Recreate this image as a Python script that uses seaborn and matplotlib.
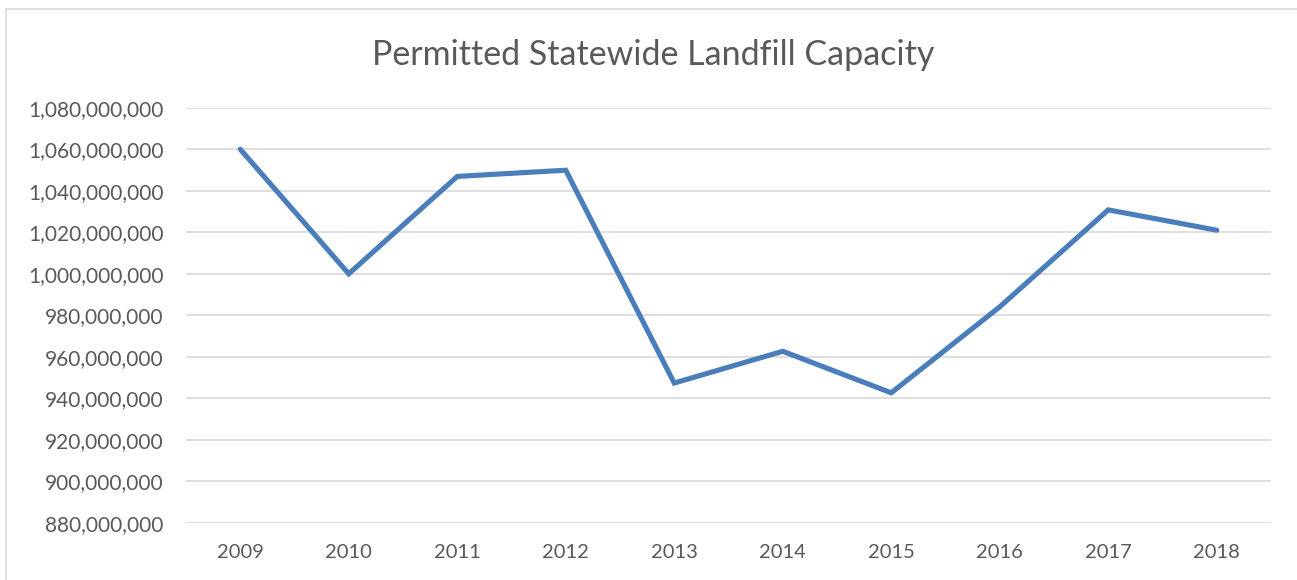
import pandas as pd
import matplotlib
matplotlib.use("Agg")
import matplotlib.pyplot as plt
from matplotlib.ticker import FuncFormatter, MultipleLocator
from matplotlib.patches import Rectangle
import seaborn as sns

years = ["2009", "2010", "2011", "2012", "2013", "2014", "2015", "2016", "2017", "2018"]
capacity = [1060000000, 1000000000, 1046900000, 1049900000, 947400000,
            962700000, 942700000, 984100000, 1030800000, 1021000000]

title = "Permitted Statewide Landfill Capacity"


def main():
    df = pd.DataFrame({"Year": years, "Capacity": capacity})

    sns.set_theme(style="white")
    plt.rcParams['font.family'] = ['Lato', 'DejaVu Sans']

    fig = plt.figure(figsize=(12.97, 5.8), dpi=100)
    ax = fig.add_axes([186 / 1297, 1 - 523 / 580, (1271 - 186) / 1297, (523 - 107.7) / 580])

    sns.lineplot(data=df, x="Year", y="Capacity", ax=ax, color="#4a7ebb",
                 linewidth=3.7, solid_capstyle="round", solid_joinstyle="miter", zorder=3)

    ax.set_xlim(-0.5, len(years) - 0.5)
    ax.set_ylim(880000000, 1080000000)
    ax.yaxis.set_major_locator(MultipleLocator(20000000))
    ax.yaxis.set_major_formatter(FuncFormatter(lambda v, p: f"{v:,.0f}"))

    ax.grid(True, axis="y", color="#d9d9d9", linewidth=1.2)
    ax.grid(False, axis="x")
    for s in ax.spines.values():
        s.set_visible(False)
    ax.tick_params(axis="both", length=0, labelcolor="#595959")
    ax.tick_params(axis="y", pad=16, labelsize=15)
    ax.tick_params(axis="x", pad=15, labelsize=14.5)
    ax.set_xlabel("")
    ax.set_ylabel("")

    fig.text(653 / 1297, 1 - 65 / 580, title, ha="center", va="baseline",
             fontsize=24.5, color="#595959")

    fig.patches.append(Rectangle((6 / 1297, -0.1), 1.2, 1.1 - 8.5 / 580,
                                 transform=fig.transFigure, fill=False,
                                 edgecolor="#d9d9d9", linewidth=1.2))

    fig.savefig("out.png", dpi=100, facecolor="white")


if __name__ == '__main__':
    main()
